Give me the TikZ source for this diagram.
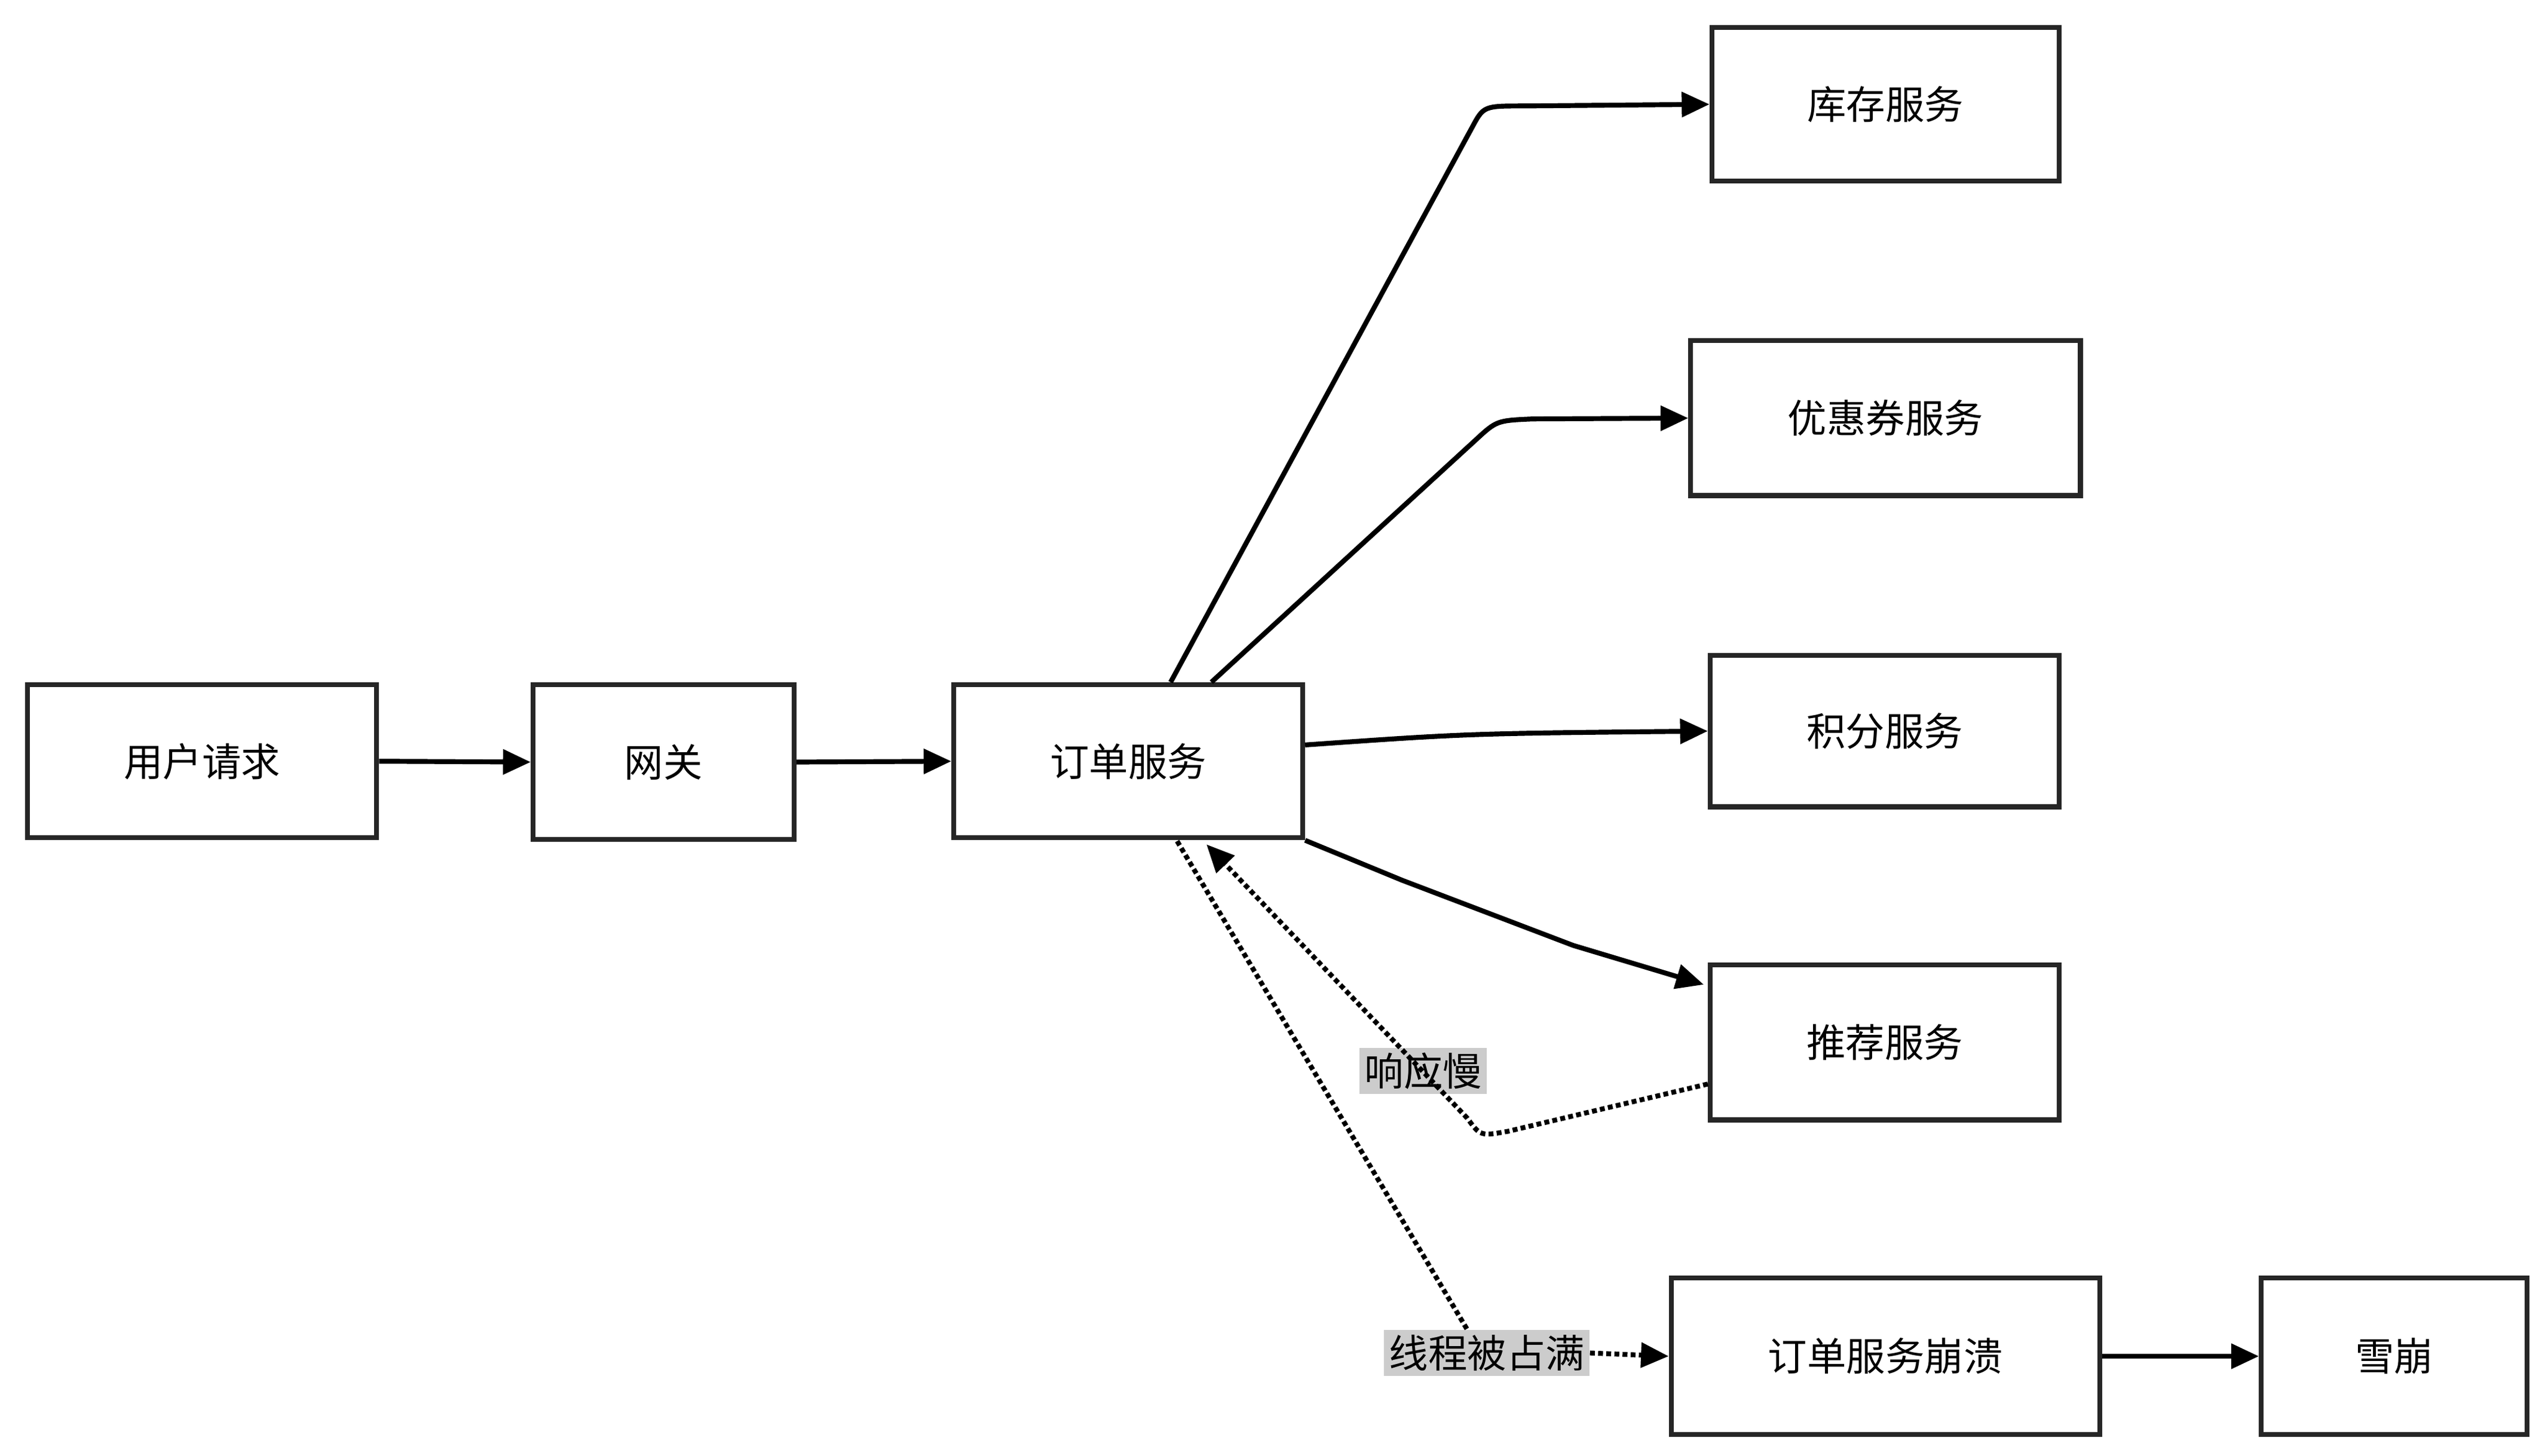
\documentclass[tikz,border=0pt]{standalone}
\usepackage{fontspec}
\setmainfont{Noto Sans CJK SC}
\usetikzlibrary{arrows.meta}
\begin{document}
\begin{tikzpicture}[x=1pt,y=-1pt,
 box/.style={draw=black!85,line width=3pt,rectangle,inner sep=0pt,font=\fontsize{24}{28}\selectfont},
 arr/.style={line width=3pt,-{Triangle[length=17pt,width=15pt]}},
 dot/.style={line width=3pt,dash pattern=on 3pt off 2pt},
 lab/.style={fill=black!20,inner sep=3pt,font=\fontsize{24}{28}\selectfont}]
\useasboundingbox (0,0) rectangle (1561,893);
\def\bx#1#2#3#4#5#6{\node[box,minimum width=#4-#2,minimum height=#5-#3] (#1) at ({(#2+#4)/2},{(#3+#5)/2}) {#6};}
\bx{u}{17}{420}{231}{514}{用户请求}
\bx{g}{327}{420}{487}{515}{网关}
\bx{o}{585}{420}{799}{514}{订单服务}
\bx{k}{1050}{17}{1263}{111}{库存服务}
\bx{y}{1037}{209}{1276}{304}{优惠券服务}
\bx{j}{1049}{402}{1263}{495}{积分服务}
\bx{t}{1049}{592}{1263}{687}{推荐服务}
\bx{c}{1025}{784}{1288}{880}{订单服务崩溃}
\bx{x}{1387}{784}{1550}{880}{雪崩}
\draw[arr] (u.east) -- (g.west);
\draw[arr] (g.east) -- (o.west);
\draw[arr] ([xshift=26pt]o.north) -- (903,78) .. controls (910,65) .. (935,65) -- (k.west);
\draw[arr] ([xshift=51pt]o.north) -- (905,270) .. controls (918,258) .. (940,257) -- (y.west);
\draw[arr] (o.east |- 0,457) .. controls (900,450) .. (j.west);
\draw[arr] (o.south east) -- (860,540) -- (965,580) -- (1045,604);
\node[lab] (l1) at (873,657) {响应慢};
\draw[dot,-{Triangle[length=17pt,width=15pt]}] (t.west |- 0,665) -- (925,694) .. controls (908,697) .. (900,686) -- (740,518);
\node[lab] (l2) at (912,830) {线程被占满};
\draw[dot] (722,516) -- (l2.north -| 900,0);
\draw[dot,-{Triangle[length=17pt,width=15pt]}] (l2.east) -- (c.west);
\draw[arr] (c.east) -- (x.west);
\end{tikzpicture}
\end{document}
